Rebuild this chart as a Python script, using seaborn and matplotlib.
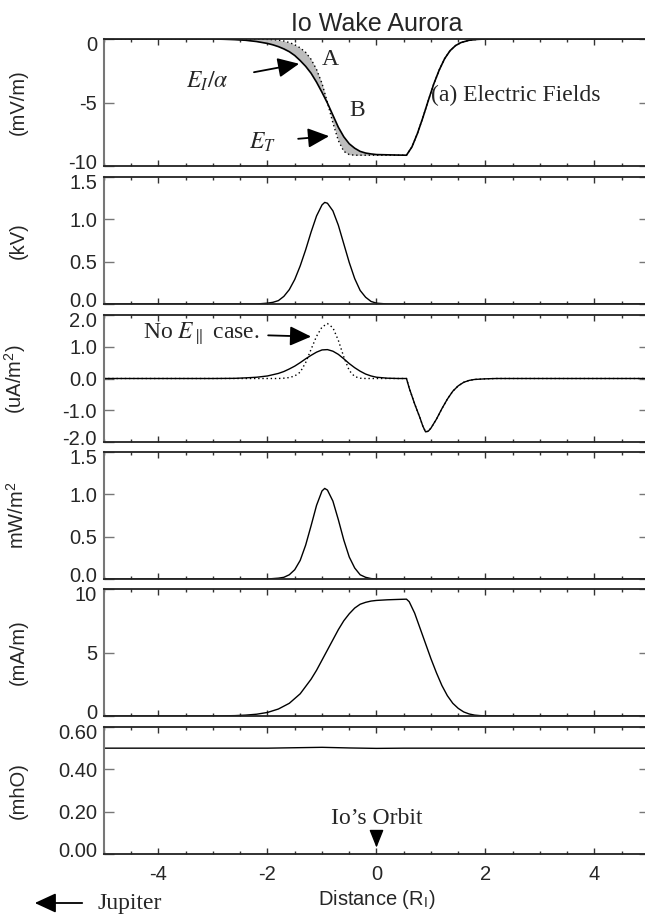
import matplotlib
matplotlib.use("Agg")
import matplotlib.pyplot as plt
from matplotlib.ticker import MultipleLocator, FormatStrFormatter
from matplotlib.transforms import ScaledTranslation
import seaborn as sns

# (a) electric fields, mV/m
x_a = [-5, -3.0, -2.8, -2.6, -2.4, -2.2, -2.0, -1.9, -1.8, -1.7, -1.6, -1.5, -1.4, -1.3, -1.2,
       -1.1, -1.0, -0.9, -0.8, -0.7, -0.6, -0.5, -0.4, -0.3, -0.2, -0.1, 0.0, 0.2, 0.4, 0.55,
       0.65, 0.75, 0.85, 0.95, 1.05, 1.15, 1.25, 1.35, 1.45, 1.55, 1.7, 1.85, 2.0, 5]
e_ion = [0, 0, -0.02, -0.05, -0.1, -0.2, -0.35, -0.46, -0.6, -0.78, -1.0, -1.3, -1.7, -2.15, -2.7,
         -3.4, -4.2, -5.05, -6.0, -6.95, -7.7, -8.25, -8.6, -8.85, -8.98, -9.05, -9.1, -9.12, -9.14, -9.15,
         -8.5, -7.45, -6.2, -4.85, -3.55, -2.45, -1.55, -0.92, -0.52, -0.28, -0.1, -0.03, 0, 0]
e_torus = [0, 0, 0, 0, 0, -0.01, -0.03, -0.05, -0.09, -0.16, -0.28, -0.45, -0.7, -1.05, -1.6,
           -2.4, -3.5, -5.0, -6.6, -8.0, -8.85, -9.1, -9.15, -9.15, -9.15, -9.15, -9.15, -9.15, -9.15, -9.15,
           -8.5, -7.45, -6.2, -4.85, -3.55, -2.45, -1.55, -0.92, -0.52, -0.28, -0.1, -0.03, 0, 0]

# (b) parallel potential, kV
x_b = [-5, -2.2, -2.0, -1.9, -1.8, -1.7, -1.6, -1.5, -1.4, -1.3, -1.2, -1.1, -1.0, -0.95,
       -0.9, -0.8, -0.7, -0.6, -0.5, -0.4, -0.3, -0.2, -0.1, 0.0, 0.2, 5]
phi = [0, 0, 0.01, 0.02, 0.04, 0.09, 0.17, 0.29, 0.45, 0.64, 0.85, 1.04, 1.17, 1.2,
       1.19, 1.1, 0.93, 0.71, 0.49, 0.3, 0.16, 0.08, 0.03, 0.01, 0, 0]

# (c) parallel current, uA/m^2
x_c = [-5, -3.0, -2.6, -2.4, -2.2, -2.0, -1.8, -1.7, -1.6, -1.5, -1.4, -1.3, -1.2, -1.1, -1.0,
       -0.9, -0.8, -0.7, -0.6, -0.5, -0.4, -0.3, -0.2, -0.1, 0.0, 0.2, 0.4, 0.55,
       0.6, 0.7, 0.8, 0.85, 0.9, 0.95, 1.0, 1.1, 1.2, 1.3, 1.4, 1.5, 1.6, 1.7, 1.8, 2.0, 2.2, 5]
j_par = [0, 0, 0.005, 0.02, 0.04, 0.08, 0.16, 0.22, 0.3, 0.39, 0.5, 0.62, 0.73, 0.83, 0.9,
         0.91, 0.86, 0.76, 0.62, 0.47, 0.34, 0.23, 0.14, 0.08, 0.04, 0.01, 0.0, 0.0,
         -0.3, -0.8, -1.25, -1.5, -1.68, -1.66, -1.56, -1.28, -0.95, -0.65, -0.4, -0.23, -0.12, -0.06, -0.03, -0.01, 0, 0]
j_no_epar = [0, 0, 0, 0, 0, 0, 0, 0.01, 0.03, 0.08, 0.2, 0.5, 0.92, 1.33, 1.62,
             1.73, 1.6, 1.2, 0.68, 0.25, 0.06, 0.01, 0, 0, 0, 0, 0, 0,
             -0.3, -0.8, -1.25, -1.5, -1.68, -1.66, -1.56, -1.28, -0.95, -0.65, -0.4, -0.23, -0.12, -0.06, -0.03, -0.01, 0, 0]

# (d) energy flux, mW/m^2
x_d = [-5, -2.0, -1.8, -1.7, -1.6, -1.5, -1.4, -1.3, -1.2, -1.1, -1.0, -0.95, -0.9, -0.8,
       -0.7, -0.6, -0.5, -0.4, -0.3, -0.2, -0.1, 0.0, 5]
flux = [0, 0, 0.01, 0.02, 0.05, 0.11, 0.22, 0.4, 0.63, 0.87, 1.04, 1.07, 1.05, 0.92,
        0.7, 0.46, 0.26, 0.13, 0.05, 0.02, 0.005, 0, 0]

# (e) radial current, mA/m
x_e = [-5, -3.0, -2.6, -2.4, -2.2, -2.0, -1.8, -1.6, -1.4, -1.2, -1.1, -1.0, -0.9, -0.8, -0.7,
       -0.6, -0.5, -0.4, -0.3, -0.2, -0.1, 0.0, 0.2, 0.4, 0.55, 0.6, 0.7, 0.8, 0.9, 1.0,
       1.1, 1.2, 1.3, 1.4, 1.5, 1.6, 1.7, 1.8, 1.9, 2.0, 2.2, 5]
j_rad = [0, 0, 0.03, 0.07, 0.14, 0.28, 0.55, 1.0, 1.75, 2.9, 3.6, 4.4, 5.2, 6.0, 6.8,
         7.5, 8.05, 8.5, 8.8, 8.95, 9.05, 9.1, 9.15, 9.18, 9.2, 9.0, 8.1, 6.9, 5.7, 4.5,
         3.4, 2.4, 1.6, 1.0, 0.6, 0.32, 0.16, 0.07, 0.03, 0.01, 0, 0]

# (f) conductivity, mho
x_f = [-5, -2.0, -1.5, -1.0, -0.5, 0.0, 0.5, 5]
sigma = [0.5, 0.5, 0.502, 0.504, 0.501, 0.499, 0.5, 0.5]

ylims = [(-10, 0), (0, 1.5), (-2, 2), (0, 1.5), (0, 10), (0, 0.6)]
yticks = [[-10, -5, 0], [0, 0.5, 1.0, 1.5], [-2, -1, 0, 1, 2], [0, 0.5, 1.0, 1.5], [0, 5, 10], [0, 0.2, 0.4, 0.6]]
yfmts = ["%d", "%.1f", "%.1f", "%.1f", "%d", "%.2f"]
ylabels = ["(mV/m)", "(kV)", r"(uA/m$^\mathregular{2}$)", r"mW/m$^\mathregular{2}$", "(mA/m)", "(mhO)"]

sns.set_style("ticks")
plt.rcParams["font.family"] = ["Liberation Sans", "DejaVu Sans"]
plt.rcParams["axes.unicode_minus"] = False
plt.rcParams["mathtext.fontset"] = "stix"
serif = ["Liberation Serif", "DejaVu Serif"]
tfs = 17
sfs = 14.5

W_PX, H_PX = 645, 914
fig = plt.figure(figsize=(W_PX / 100, H_PX / 100), dpi=100)
tops = [39, 177, 315, 452, 589, 727]
ph = 127
left, right = 104, 649
arrow = "-|>,head_length=0.65,head_width=0.3"

axes = []
for i, top in enumerate(tops):
    ax = fig.add_axes([left / W_PX, 1 - (top + ph) / H_PX, (right - left) / W_PX, ph / H_PX])
    ax.set_xlim(-5, 5)
    ax.set_ylim(*ylims[i])
    ax.set_xticks([-4, -2, 0, 2, 4])
    ax.xaxis.set_minor_locator(MultipleLocator(0.5))
    ax.set_yticks(yticks[i])
    ax.yaxis.set_major_formatter(FormatStrFormatter(yfmts[i]))
    ax.tick_params(axis="x", which="major", direction="in", top=True, bottom=True, length=4, width=1, color="#333333")
    ax.tick_params(axis="x", which="minor", direction="in", top=True, bottom=True, length=2.5, width=1, color="#333333")
    ax.tick_params(axis="y", direction="in", left=True, right=True, length=7.5, width=1, color="#777777",
                   labelsize=sfs, pad=5)
    ax.tick_params(axis="x", labelsize=sfs, pad=8, labelbottom=(i == 5))
    for s in ["top", "bottom"]:
        ax.spines[s].set_color("#222222")
        ax.spines[s].set_linewidth(1.3)
    for s in ["left", "right"]:
        ax.spines[s].set_color("#777777")
        ax.spines[s].set_linewidth(1.5)
    # nudge the end labels inward so neighbouring panels do not collide
    ticks = ax.yaxis.get_major_ticks()
    ticks[0].label1.set_transform(ticks[0].label1.get_transform() + ScaledTranslation(0, 0.045, fig.dpi_scale_trans))
    ticks[-1].label1.set_transform(ticks[-1].label1.get_transform() + ScaledTranslation(0, -0.045, fig.dpi_scale_trans))
    ax.set_ylabel(ylabels[i], fontsize=sfs)
    ax.yaxis.set_label_coords(-0.139, 0.5)
    ax.set_xlabel("")
    axes.append(ax)

ax_a, ax_b, ax_c, ax_d, ax_e, ax_f = axes

# (a)
ax_a.fill_between(x_a, e_ion, e_torus, color="#bdbdbd", lw=0)
sns.lineplot(x=x_a, y=e_torus, ax=ax_a, color="black", lw=1.0, linestyle=(0, (1, 2)))
sns.lineplot(x=x_a, y=e_ion, ax=ax_a, color="black", lw=1.2)
ax_a.annotate(r"$E_I/\alpha$", xy=(-1.42, -1.95), xytext=(-3.1, -3.3), fontsize=tfs, ha="center", va="center",
              math_fontfamily="stix",
              arrowprops=dict(arrowstyle=arrow, color="black", lw=1.3, mutation_scale=20, shrinkA=16, shrinkB=0))
ax_a.annotate(r"$E_T$", xy=(-0.87, -7.65), xytext=(-2.1, -8.1), fontsize=tfs, ha="center", va="center",
              math_fontfamily="stix",
              arrowprops=dict(arrowstyle=arrow, color="black", lw=1.3, mutation_scale=20, shrinkA=14, shrinkB=0))
ax_a.text(-0.85, -1.6, "A", fontsize=tfs, family=serif, ha="center", va="center")
ax_a.text(-0.35, -5.6, "B", fontsize=tfs, family=serif, ha="center", va="center")
ax_a.text(1.0, -4.45, "(a) Electric Fields", fontsize=tfs, family=serif, ha="left", va="center")
ax_a.set_title("Io Wake Aurora", fontsize=18, pad=6)

# (b)
sns.lineplot(x=x_b, y=phi, ax=ax_b, color="black", lw=1.0)
ax_b.text(1.0, 0.87, "(b) Parallel Potential", transform=ax_b.get_yaxis_transform(), fontsize=tfs,
          family=serif, ha="left", va="center")

# (c)
sns.lineplot(x=x_c, y=j_no_epar, ax=ax_c, color="black", lw=1.0, linestyle=(0, (1, 2)))
sns.lineplot(x=x_c, y=j_par, ax=ax_c, color="black", lw=1.0)
ax_c.annotate(r"No $E_{\parallel}$ case.", xy=(-1.2, 1.32), xytext=(-2.15, 1.42), fontsize=tfs, family=serif,
              ha="right", va="center", math_fontfamily="stix",
              arrowprops=dict(arrowstyle=arrow, color="black", lw=1.3, mutation_scale=20, shrinkA=4, shrinkB=0))
ax_c.text(1.0, 0.76, "(c) Parallel Current\n(Ionosphere)", transform=ax_c.get_yaxis_transform(), fontsize=tfs,
          family=serif, ha="left", va="center", linespacing=1.0)

# (d)
sns.lineplot(x=x_d, y=flux, ax=ax_d, color="black", lw=1.0)
ax_d.text(1.0, 0.68, "(d) Energy Flux\n(Ionosphere)", transform=ax_d.get_yaxis_transform(), fontsize=tfs,
          family=serif, ha="left", va="center", linespacing=1.0)

# (e)
sns.lineplot(x=x_e, y=j_rad, ax=ax_e, color="black", lw=1.0)
ax_e.text(1.0, 0.64, "(e) Radial Current\n(Io Torus)", transform=ax_e.get_yaxis_transform(), fontsize=tfs,
          family=serif, ha="left", va="center", linespacing=1.0)

# (f)
sns.lineplot(x=x_f, y=sigma, ax=ax_f, color="black", lw=1.0)
ax_f.text(1.0, 0.57, "(f) Conductivity\n(Ionosphere)", transform=ax_f.get_yaxis_transform(), fontsize=tfs,
          family=serif, ha="left", va="center", linespacing=1.0)
ax_f.annotate("Io\u2019s Orbit", xy=(0, 0.03), xytext=(0, 0.17), fontsize=tfs, family=serif,
              ha="center", va="center",
              arrowprops=dict(arrowstyle="-|>,head_length=0.55,head_width=0.22", color="black", lw=1.0,
                              mutation_scale=20, shrinkA=12, shrinkB=0))
ax_f.set_xlabel(r"Distance (R$_\mathregular{I}$)", fontsize=sfs, labelpad=3)

fig.text(97 / W_PX, 1 - 904 / H_PX, "Jupiter", fontsize=tfs, family=serif, ha="left", va="center")
fig.patches.append(matplotlib.patches.FancyArrowPatch(
    (85 / W_PX, 1 - 903 / H_PX), (32 / W_PX, 1 - 903 / H_PX), transform=fig.transFigure,
    arrowstyle=arrow, mutation_scale=20, color="black", lw=1.3))

fig.savefig("out.png", dpi=100)
